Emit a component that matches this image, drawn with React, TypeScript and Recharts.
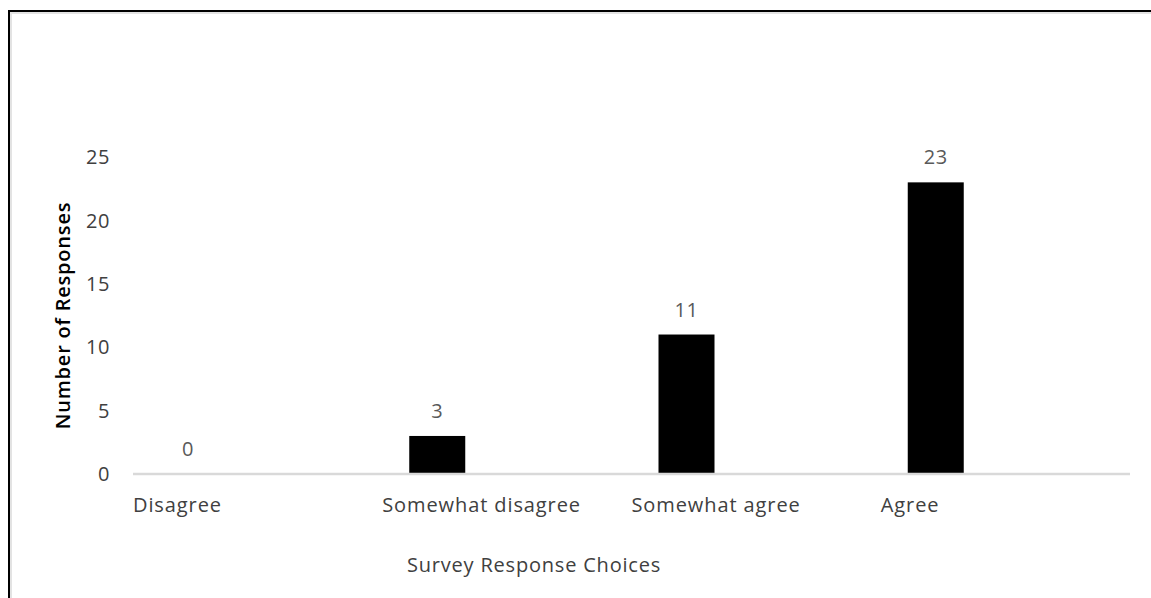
import React from 'react';
import { BarChart, Bar, XAxis, YAxis, LabelList } from 'recharts';

const categories = ['Disagree', 'Somewhat disagree', 'Somewhat agree', 'Agree'];
const responses = [0, 3, 11, 23];
const yTicks = [0, 5, 10, 15, 20, 25];

const data = categories.map((c, i) => ({ category: c, responses: responses[i] }));

const FONT = '"Open Sans", sans-serif';
const BAR_SHIFT = -70; // bars sit left of the band centre, as in the original

const BarShape = (props: any) => {
  const { x, y, width, height } = props;
  if (!height || height <= 0) return null;
  return <rect x={x + BAR_SHIFT} y={y} width={width} height={height} fill="#000000" />;
};

const ValueLabel = (props: any) => {
  const { x, y, width, value } = props;
  return (
    <text
      x={x + width / 2 + BAR_SHIFT}
      y={y - 18}
      textAnchor="middle"
      fill="#595959"
      fontSize={20}
      letterSpacing={0.6}
      fontFamily={FONT}
    >
      {value}
    </text>
  );
};

const CategoryTick = (props: any) => {
  const { x, y, payload } = props;
  const half = payload && typeof payload.offset === 'number' ? payload.offset : 124.6;
  return (
    <text
      x={x - half}
      y={y}
      dy="0.71em"
      textAnchor="start"
      fill="#404040"
      fontSize={20}
      letterSpacing={0.9}
      fontFamily={FONT}
    >
      {payload.value}
    </text>
  );
};

export default function App() {
  return (
    <div style={{ position: 'absolute', left: 0, top: 0, width: 1151, height: 598, background: '#fff' }}>
      <div
        style={{
          position: 'absolute',
          left: 8,
          top: 10,
          width: 1143,
          height: 588,
          borderTop: '2px solid #000',
          borderLeft: '2px solid #000',
          boxShadow: 'inset 2px 2px 0 #e3e3e3',
          boxSizing: 'border-box',
        }}
      />
      <div style={{ position: 'absolute', left: 0, top: 0 }}>
        <BarChart
          width={1151}
          height={598}
          data={data}
          margin={{ top: 157, right: 21, bottom: 94, left: 0 }}
          barSize={56}
        >
          <XAxis
            dataKey="category"
            height={30}
            axisLine={{ stroke: '#d9d9d9', strokeWidth: 2.5 }}
            tickLine={false}
            tickSize={0}
            tickMargin={24}
            tick={<CategoryTick />}
            interval={0}
            label={{
              content: (p: any) => {
                const vb = p.viewBox || { x: 133, y: 474, width: 997 };
                return (
                  <text
                    x={vb.x + 401}
                    y={572}
                    textAnchor="middle"
                    fill="#404040"
                    fontSize={20}
                    letterSpacing={0.8}
                    fontFamily={FONT}
                  >
                    Survey Response Choices
                  </text>
                );
              },
            }}
          />
          <YAxis
            width={133}
            domain={[0, 25]}
            ticks={yTicks}
            axisLine={false}
            tickLine={false}
            tickSize={0}
            tickMargin={23}
            tick={{ fill: '#404040', fontSize: 20, fontFamily: FONT, letterSpacing: 0.6 }}
            label={{
              content: (p: any) => {
                const vb = p.viewBox || { x: 0, y: 157, width: 133, height: 317 };
                const cx = vb.x + 62;
                const cy = vb.y + vb.height / 2;
                return (
                  <text
                    x={cx}
                    y={cy}
                    transform={`rotate(-90 ${cx} ${cy})`}
                    textAnchor="middle"
                    dominantBaseline="central"
                    fill="#000"
                    fontSize={20}
                    fontWeight={600}
                    letterSpacing={0.8}
                    fontFamily={FONT}
                  >
                    Number of Responses
                  </text>
                );
              },
            }}
          />
          <Bar dataKey="responses" isAnimationActive={false} shape={<BarShape />}>
            <LabelList dataKey="responses" content={<ValueLabel />} />
          </Bar>
        </BarChart>
      </div>
    </div>
  );
}
